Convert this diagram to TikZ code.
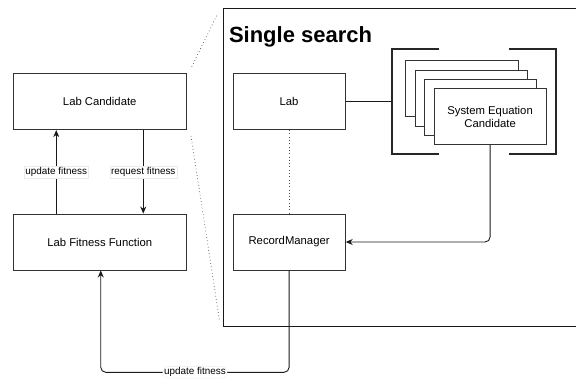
\documentclass[tikz,border=0pt]{standalone}
\usepackage{fontspec}
\setmainfont{Liberation Sans}
\usetikzlibrary{arrows.meta,calc}
\begin{document}
\begin{tikzpicture}[x=1pt,y=-1pt,
  box/.style={draw=black!80, line width=0.9pt, fill=white, inner sep=0pt,
    font=\fontsize{11.3}{13.4}\selectfont, align=center},
  bigbox/.style={box, minimum width=173.1pt, minimum height=56pt},
  smallbox/.style={box, minimum width=112.3pt, minimum height=56pt},
  conn/.style={draw=black!90, line width=0.9pt},
  arr/.style={conn, -{Stealth[length=7pt,width=6pt]}},
  lbl/.style={fill=white, draw=black!8, line width=0.3pt, inner sep=1.3pt,
    font=\fontsize{9.9}{11}\selectfont},
  dots/.style={draw=black!70, line width=0.7pt, dash pattern=on 0.7pt off 2.6pt},
  bracket/.style={draw=black!85, line width=1.8pt},
  title/.style={font=\bfseries\fontsize{22}{26}\selectfont, inner sep=0pt}
]
\useasboundingbox (0,0) rectangle (576,378);

% zoom frame
\draw[conn] (590,8) -| (223.4,326) -- (590,326);
\node[title, anchor=base west] (title) at (228.8,42.7) {Single search};

% left side
\node[bigbox] (lc) at (99.75,101.7) {Lab Candidate};
\node[bigbox] (lff) at (99.75,242) {Lab Fitness Function};

% projection lines
\coordinate (p1a) at (191.7,66.7);
\coordinate (p1b) at (217.5,14);
\coordinate (p2a) at (191,136);
\coordinate (p2b) at (219.7,321.7);
\draw[dots] (p1a) -- (p1b);
\draw[dots] (p2a) -- (p2b);

% inside
\node[smallbox] (lab) at (289.1,101.7) {Lab};
\node[smallbox] (rm) at (289.1,242) {RecordManager};

\node[smallbox] (s1) at (462.0,88.7) {};
\node[smallbox] (s2) at (471.3,98.0) {};
\node[smallbox] (s3) at (480.7,107.3) {};
\node[smallbox] (sec) at (490.1,116.7) {System Equation\\Candidate};

% brackets
\draw[bracket] (439.3,49.3) -- (392.3,49.3) -- (392.3,154) -- (439.3,154);
\draw[bracket] (509.3,49.3) -- (555.7,49.3) -- (555.7,154) -- (509.3,154);
\coordinate (brk) at (392.3,101.7);

% connectors
\draw[conn] (lab.east) -- (brk);
\draw[dots] (lab.south) -- (rm.north);
\draw[arr, rounded corners=5pt] (sec.south) |- (rm.east);

\draw[arr] ($(lff.north west)!0.25!(lff.north east)$) -- node[lbl]{update fitness}
  ($(lc.south west)!0.25!(lc.south east)$);
\draw[arr] ($(lc.south west)!0.75!(lc.south east)$) -- node[lbl]{request fitness}
  ($(lff.north west)!0.75!(lff.north east)$);

\coordinate (bot) at (289.1,372.3);
\draw[arr, rounded corners=5pt] (rm.south) -- (bot) -| node[lbl, pos=0.25]{update fitness} ($(lff.south)+(1,0)$);
\end{tikzpicture}
\end{document}
